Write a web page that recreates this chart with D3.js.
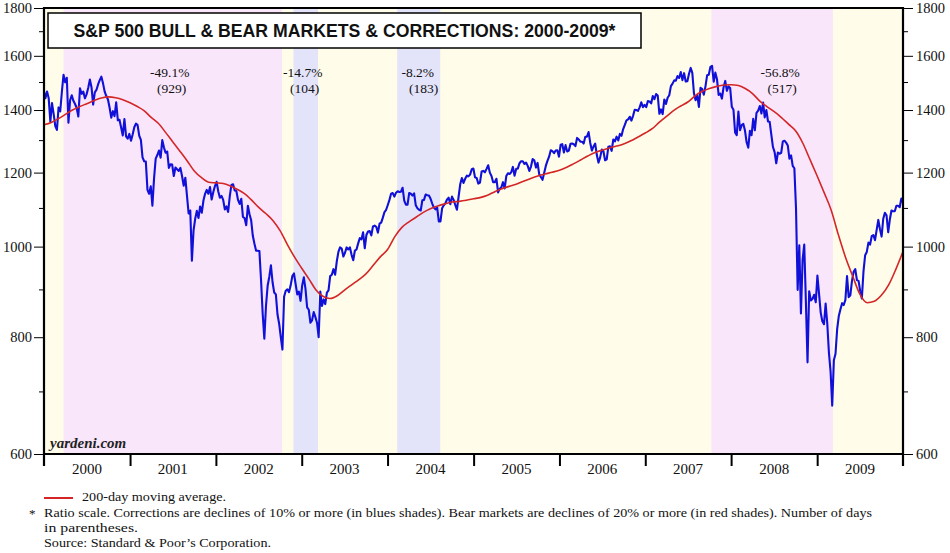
<!DOCTYPE html>
<html><head><meta charset="utf-8">
<script src="https://cdn.jsdelivr.net/npm/d3@7/dist/d3.min.js"></script>
<style>body{margin:0;background:#fff}svg{display:block}</style>
</head><body>
<svg id="c" width="950" height="553"></svg>
<script>
// ---- DATA ----
const yearStarts = ["1999-12-31","2001-01-05","2002-01-04","2003-01-03","2004-01-02","2005-01-07","2006-01-06","2007-01-05","2008-01-04","2009-01-02"];
const w2000 = [1469,1441,1465,1441,1360,1424,1387,1346,1333,1409,1395,1464,1527,1499,1516,1357,1434,1452,1432,1421,1407,1378,1477,1457,1465,1441,1455,1478,1509,1481,1419,1462,1471,1491,1507,1520,1495,1465,1449,1437,1408,1374,1396,1379,1427,1365,1367,1341,1315,1369,1312,1305,1320];
const w2001 = [1298,1318,1342,1354,1349,1314,1301,1246,1234,1233,1150,1139,1160,1106,1183,1242,1253,1267,1245,1300,1277,1260,1264,1214,1225,1224,1190,1215,1210,1205,1214,1190,1162,1185,1134,1085,1093,966,1041,1071,1092,1073,1104,1087,1120,1139,1150,1139,1158,1123,1144,1161];
const w2002 = [1173,1146,1128,1133,1122,1096,1104,1089,1132,1164,1166,1148,1147,1122,1111,1125,1076,1073,1054,1106,1083,1067,1027,1007,990,990,989,921,847,797,864,908,928,955,916,893,889,846,827,800,776,884,897,900,894,909,930,936,912,889,895,875];
const w2003 = [909,927,901,861,856,829,834,851,841,829,800,895,864,878,868,893,898,930,933,946,933,964,987,998,995,976,985,998,993,998,980,967,990,993,1008,1021,1018,1036,996,1029,1038,1039,1028,1051,1053,1050,1035,1058,1061,1074,1089,1095];
const w2004 = [1108,1122,1139,1141,1131,1142,1146,1144,1145,1156,1120,1109,1109,1141,1139,1134,1140,1107,1099,1095,1093,1121,1122,1137,1135,1134,1125,1112,1101,1096,1101,1064,1064,1099,1107,1113,1123,1128,1110,1131,1122,1108,1095,1130,1166,1184,1170,1182,1191,1189,1194,1210,1212];
const w2005 = [1186,1184,1168,1171,1203,1205,1201,1211,1222,1200,1190,1172,1172,1182,1143,1153,1157,1172,1154,1190,1198,1196,1201,1217,1191,1211,1212,1228,1234,1234,1226,1230,1220,1205,1218,1241,1237,1215,1229,1195,1187,1179,1199,1220,1235,1248,1268,1265,1259,1267,1268,1248];
const w2006 = [1285,1287,1261,1284,1264,1267,1288,1289,1287,1281,1307,1302,1295,1295,1289,1311,1311,1326,1291,1267,1280,1289,1253,1230,1245,1270,1265,1237,1240,1279,1280,1266,1302,1296,1311,1299,1320,1314,1336,1350,1365,1368,1377,1364,1380,1401,1400,1397,1409,1427,1410,1418];
const w2007 = [1410,1431,1430,1423,1449,1438,1456,1451,1387,1402,1386,1437,1421,1443,1452,1485,1494,1506,1505,1522,1515,1537,1507,1533,1502,1503,1531,1553,1534,1459,1434,1453,1411,1479,1474,1454,1484,1525,1527,1557,1561,1501,1535,1510,1453,1458,1440,1481,1504,1468,1484,1478];
const w2008 = [1411,1401,1325,1316,1395,1332,1349,1353,1331,1293,1276,1330,1316,1370,1332,1390,1398,1414,1388,1426,1375,1400,1361,1360,1318,1278,1262,1228,1261,1257,1260,1296,1298,1292,1283,1242,1252,1220,1213,1099,899,1003,848,968,1005,873,752,896,876,879,888,872];
const w2009 = [931,890,850,832,826,869,827,770,735,676,756,768,816,843,857,870,866,877,930,883,887,919,940,946,921,919,896,880,941,979,987,1010,1005,1026,1029,1016,1042,1068,1044,1025,1071,1087,1080,1036,1069,1093,1091,1091,1106,1106,1102,1126,1115];
const weeklyByYear = [w2000,w2001,w2002,w2003,w2004,w2005,w2006,w2007,w2008,w2009];

// 200-day moving average, first of each month, Jan 2000 .. Jan 2010
const maMonthly = [
 1350,1358,1370,1385,1400,1412,1422,1433,1442,1446,1443,1436,
 1425,1412,1398,1375,1355,1325,1295,1265,1235,1205,1185,1172,
 1170,1168,1162,1152,1140,1122,1102,1085,1066,1040,1005,975,
 948,923,900,885,880,886,898,910,922,935,955,975,
 993,1025,1048,1063,1075,1088,1098,1105,1111,1116,1118,1121,
 1125,1129,1135,1145,1153,1160,1166,1175,1183,1190,1196,1201,
 1207,1216,1226,1238,1250,1261,1268,1275,1281,1288,1298,1310,
 1323,1338,1358,1378,1398,1414,1428,1450,1466,1476,1484,1489,
 1490,1487,1476,1458,1432,1412,1395,1375,1352,1330,1290,1240,
 1190,1140,1095,1030,975,930,890,871,874,887,910,945,
 988];

const bearMarkets = [["2000-03-24","2002-10-09"],["2007-10-09","2009-03-09"]];
const corrections = [["2002-11-27","2003-03-11"],["2004-02-11","2004-08-12"]];
const bearLabels = [["-49.1%","(929)"],["-56.8%","(517)"]];
const corrLabels = [["-14.7%","(104)"],["-8.2%","(183)"]];
const yMajor = [600,800,1000,1200,1400,1600,1800];
const yMinor = [700,900,1100,1300,1500,1700];
const yearLabels = ["2000","2001","2002","2003","2004","2005","2006","2007","2008","2009"];
const titleText = "S&P 500 BULL & BEAR MARKETS & CORRECTIONS: 2000-2009*";
const legendText = "200-day moving average.";
const notes = ["Ratio scale. Corrections are declines of 10% or more (in blues shades). Bear markets are declines of 20% or more (in red shades). Number of days","in parentheses.","Source: Standard & Poor\u2019s Corporation."];

// ---- BUILD ----
const parse = d3.timeParse("%Y-%m-%d");
const series = [];
weeklyByYear.forEach((arr, yi) => {
  const s = parse(yearStarts[yi]);
  arr.forEach((v, i) => series.push({date: d3.timeDay.offset(s, 7*i), value: v}));
});
const maSeries = maMonthly.map((v,i) => ({date: new Date(2000, i, 1), value: v}));

const L = 44, R = 903, T = 8, B = 454;
const x = d3.scaleTime().domain([new Date(2000,0,1), new Date(2010,0,1)]).range([L, R]);
const y = d3.scaleLog().domain([600,1800]).range([B, T]);

const svg = d3.select("#c");
const serif = "'Liberation Serif','Times New Roman',serif";
const sans = "'Liberation Sans',Arial,Helvetica,sans-serif";

svg.append("defs").append("clipPath").attr("id","clip")
  .append("rect").attr("x",L).attr("y",T).attr("width",R-L).attr("height",B-T);

// background
svg.append("rect").attr("x",L).attr("y",T).attr("width",R-L).attr("height",B-T).attr("fill","#fffde9");
const g = svg.append("g").attr("clip-path","url(#clip)");
g.selectAll(".bear").data(bearMarkets).join("rect")
  .attr("x", d=>x(parse(d[0]))).attr("width", d=>x(parse(d[1]))-x(parse(d[0])))
  .attr("y",T).attr("height",B-T).attr("fill","#f9e6fb");
g.selectAll(".corr").data(corrections).join("rect")
  .attr("x", d=>x(parse(d[0]))).attr("width", d=>x(parse(d[1]))-x(parse(d[0])))
  .attr("y",T).attr("height",B-T).attr("fill","#e3e3fa");

// lines
g.append("path").datum(series).attr("fill","none").attr("stroke","#1010d8").attr("stroke-width",2.1)
  .attr("stroke-linejoin","round")
  .attr("d", d3.line().x(d=>x(d.date)).y(d=>y(d.value)));
g.append("path").datum(maSeries).attr("fill","none").attr("stroke","#d42626").attr("stroke-width",1.6)
  .attr("d", d3.line().curve(d3.curveMonotoneX).x(d=>x(d.date)).y(d=>y(d.value)));

// annotations
function addLabels(ranges, labels, nudges){
  ranges.forEach((r,i)=>{
    const cx = (x(parse(r[0]))+x(parse(r[1])))/2;
    svg.append("text").attr("x", cx+nudges[i][0]).attr("y", 77).attr("text-anchor","middle")
      .attr("font-family",serif).attr("font-size",13.5).attr("fill","#111").text(labels[i][0]);
    svg.append("text").attr("x", cx+nudges[i][1]).attr("y", 93).attr("text-anchor","middle")
      .attr("font-family",serif).attr("font-size",13.5).attr("fill","#111").text(labels[i][1]);
  });
}
addLabels(bearMarkets, bearLabels, [[-3,-1],[8,10]]);
addLabels(corrections, corrLabels, [[-3,-1],[-1,5]]);

// frame
const frame = svg.append("g").attr("stroke","#000");
frame.append("line").attr("x1",L-1).attr("x2",R+1).attr("y1",T).attr("y2",T).attr("stroke-width",2);
frame.append("line").attr("x1",L-1).attr("x2",R+1).attr("y1",B).attr("y2",B).attr("stroke-width",2.2);
frame.append("line").attr("x1",L).attr("x2",L).attr("y1",T-1).attr("y2",B+12).attr("stroke-width",2.2);
frame.append("line").attr("x1",R).attr("x2",R).attr("y1",T-1).attr("y2",B+12).attr("stroke-width",2.2);

// y axes
const axL = d3.axisLeft(y).tickValues(yMajor).tickSize(10).tickPadding(2).tickFormat(d3.format("d"));
const axR = d3.axisRight(y).tickValues(yMajor).tickSize(10).tickPadding(3).tickFormat(d3.format("d"));
[ [axL, L], [axR, R] ].forEach(([ax, px])=>{
  const a = svg.append("g").attr("transform",`translate(${px},0)`).call(ax);
  a.select(".domain").remove();
  a.selectAll("text").attr("font-family",serif).attr("font-size",14.5).attr("fill","#111");
  a.selectAll("line").attr("stroke","#000").attr("stroke-width",1);
});
const mL = d3.axisLeft(y).tickValues(yMinor).tickSize(5).tickFormat("");
const mR = d3.axisRight(y).tickValues(yMinor).tickSize(5).tickFormat("");
[ [mL, L], [mR, R] ].forEach(([ax, px])=>{
  const a = svg.append("g").attr("transform",`translate(${px},0)`).call(ax);
  a.select(".domain").remove();
  a.selectAll("line").attr("stroke","#000").attr("stroke-width",1);
});

// x axis
const years = d3.range(2001,2010).map(yv=>new Date(yv,0,1));
const ax = svg.append("g").attr("transform",`translate(0,${B})`)
  .call(d3.axisBottom(x).tickValues(years).tickSize(12).tickFormat(""));
ax.select(".domain").remove();
ax.selectAll("line").attr("stroke","#000").attr("stroke-width",2);
svg.selectAll(".yl").data(yearLabels).join("text")
  .attr("x", d=>x(new Date(+d,6,2))).attr("y", 474).attr("text-anchor","middle")
  .attr("font-family",serif).attr("font-size",15).attr("fill","#111").text(d=>d);

// title box
svg.append("rect").attr("x",48).attr("y",13).attr("width",593).attr("height",35)
  .attr("fill","#fff").attr("stroke","#000").attr("stroke-width",1.5);
svg.append("text").attr("x",344.5).attr("y",37).attr("text-anchor","middle")
  .attr("font-family",sans).attr("font-weight","bold").attr("font-size",17.5).attr("fill","#111")
  .attr("textLength",542).attr("lengthAdjust","spacingAndGlyphs").text(titleText);

// watermark
svg.append("text").attr("x",50).attr("y",448).attr("font-family",serif).attr("font-weight","bold")
  .attr("font-style","italic").attr("font-size",15).attr("fill","#222").text("yardeni.com");

// legend & notes
svg.append("line").attr("x1",44).attr("x2",73).attr("y1",498).attr("y2",498).attr("stroke","#d42626").attr("stroke-width",2);
svg.append("text").attr("x",82).attr("y",501).attr("font-family",serif).attr("font-size",13.5)
  .attr("textLength",144).attr("lengthAdjust","spacingAndGlyphs").attr("fill","#111").text(legendText);
svg.append("text").attr("x",29).attr("y",518).attr("font-family",serif).attr("font-size",13).attr("fill","#111").text("*");
const noteLens = [828, 94, 227];
notes.forEach((t,i)=>{
  svg.append("text").attr("x",44).attr("y",517+i*15).attr("font-family",serif).attr("font-size",13.3)
    .attr("fill","#111").attr("textLength",noteLens[i]).attr("lengthAdjust","spacingAndGlyphs").text(t);
});
</script>
</body></html>
